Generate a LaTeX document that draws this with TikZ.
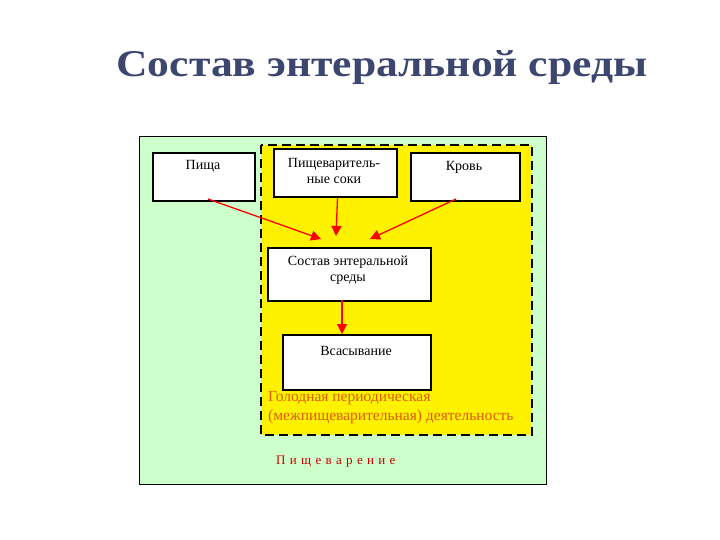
\documentclass[tikz,border=0pt]{standalone}
\usepackage{fontspec}
\setmainfont{Liberation Serif}
\usetikzlibrary{arrows.meta}
\definecolor{lgreen}{RGB}{204,255,204}
\definecolor{ttl}{RGB}{60,70,110}
\definecolor{orng}{RGB}{225,90,0}
\begin{document}
\begin{tikzpicture}[x=1pt,y=-1pt,
  bx/.style={draw,line width=2pt,fill=white,inner sep=0pt},
  lb/.style={font=\fontsize{14}{16}\selectfont,align=center},
  ar/.style={red,line width=1.3pt,-{Triangle[length=10pt,width=10pt]}}]
\useasboundingbox (0,0) rectangle (720,540);
\node[text=ttl] (title) at (382,68) {\resizebox{531pt}{26pt}{\bfseries Состав энтеральной среды}};
\draw[fill=lgreen,line width=1pt] (139,137) rectangle (546,484);
\draw[fill=yellow,line width=2pt,dash pattern=on 9pt off 5pt] (261,145) rectangle (532,435);
\node[bx,minimum width=102,minimum height=48,anchor=north west] (pisha) at (152,152) {};
\node[lb] at (203,166) {Пища};
\node[bx,minimum width=123,minimum height=48,anchor=north west] (soki) at (273,148) {};
\node[lb] at (334,171) {Пищеваритель-\\ные соки};
\node[bx,minimum width=109,minimum height=48,anchor=north west] (krov) at (410,152) {};
\node[lb] at (464,167) {Кровь};
\node[bx,minimum width=163,minimum height=53,anchor=north west] (sost) at (267,247) {};
\node[lb] at (348,270) {Состав энтеральной\\среды};
\node[bx,minimum width=148,minimum height=55,anchor=north west] (vsas) at (282,334) {};
\node[lb] at (356,351) {Всасывание};
\coordinate (t1) at (321,239);
\coordinate (t2) at (336,236);
\coordinate (t3) at (370,239);
\draw[ar] (208,199) -- (t1);
\draw[ar] (soki.south) ++(2,0) -- (t2);
\draw[ar] (456,199) -- (t3);
\draw[ar] (342,300) -- (vsas.north -| 342,0);
\node[text=orng,font=\fontsize{15.5}{19}\selectfont,align=left,anchor=north west,inner sep=0pt] (gol) at (268,391) {Голодная периодическая\\(межпищеварительная) деятельность};
\node[text=red!80!black,font=\fontsize{13}{14}\selectfont,anchor=west,inner sep=0pt] (pishv) at (276,462) {П\,\,и\,\,щ\,\,е\,\,в\,\,а\,\,р\,\,е\,\,н\,\,и\,\,е};
\end{tikzpicture}
\end{document}
